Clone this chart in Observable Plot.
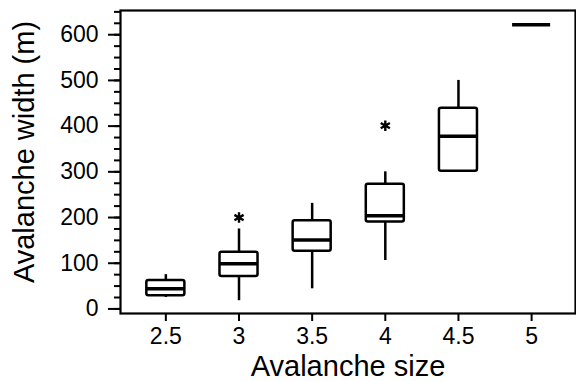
<!DOCTYPE html>
<html>
<head>
<meta charset="utf-8">
<script src="https://cdn.jsdelivr.net/npm/d3@7"></script>
<script src="https://cdn.jsdelivr.net/npm/@observablehq/plot@0.6"></script>
<style>
  html, body { margin: 0; padding: 0; background: #fff; }
  svg { display: block; }
</style>
</head>
<body>
<div id="chart"></div>
<script>
// Data
const sizes       = [2.5, 3, 3.5, 4, 4.5, 5];
const whiskerLow  = [25, 18, 44, 106, 301, 622];
const q1          = [29, 71, 126, 190, 301, 622];
const medians     = [44, 99, 151, 204, 378, 622];
const q3          = [62, 124, 193, 273, 439, 622];
const whiskerHigh = [75, 175, 231, 300, 500, 622];
const outlierSize  = [3, 4];
const outlierWidth = [200, 401];
const xTicks = [2.5, 3, 3.5, 4, 4.5, 5];
const xTickLabels = ["2.5", "3", "3.5", "4", "4.5", "5"];
const yTicks = [0, 100, 200, 300, 400, 500, 600];
const yMinorTicks = d3.range(0, 651, 25);

const boxes = sizes.map((s, i) => ({
  size: s, lo: whiskerLow[i], q1: q1[i], med: medians[i], q3: q3[i], hi: whiskerHigh[i]
}));
const outliers = outlierSize.map((s, i) => ({size: s, width: outlierWidth[i]}));
const half = 0.13;

const font = "'Liberation Sans', Arial, Helvetica, sans-serif";

const chart = Plot.plot({
  width: 576,
  height: 381,
  marginLeft: 120,
  marginTop: 10,
  marginRight: 1,
  marginBottom: 68,
  style: {fontFamily: font, background: "#fff", color: "#000"},
  x: {domain: [2.19, 5.3], label: null},
  y: {domain: [-10, 653], label: null},
  marks: [
    Plot.axisY(yMinorTicks, {tickSize: 6, text: null, strokeWidth: 2, label: null}),
    Plot.axisY(yTicks, {tickSize: 12, tickPadding: 10, strokeWidth: 2, fontSize: 23, label: null}),
    Plot.axisX(xTicks, {tickSize: 8, tickPadding: 6, strokeWidth: 2, fontSize: 23, label: null,
      tickFormat: (d) => xTickLabels[xTicks.indexOf(d)]}),
    Plot.frame({stroke: "#000", strokeWidth: 2.2}),
    Plot.ruleX(boxes.filter(d => d.hi > d.lo), {x: "size", y1: "lo", y2: "hi", stroke: "#000", strokeWidth: 2.5}),
    Plot.rect(boxes.filter(d => d.q3 > d.q1), {
      x1: d => d.size - half, x2: d => d.size + half, y1: "q1", y2: "q3",
      fill: "#fff", stroke: "#000", strokeWidth: 2.5, rx: 2
    }),
    Plot.ruleY(boxes, {y: "med", x1: d => d.size - half, x2: d => d.size + half, stroke: "#000", strokeWidth: 3.5}),
    Plot.dot(outliers, {x: "size", y: "width", symbol: "asterisk", r: 5, stroke: "#000", strokeWidth: 2.4}),
    Plot.text(["Avalanche size"], {frameAnchor: "bottom", textAnchor: "middle", lineAnchor: "middle", dy: 53, fontSize: 29, fill: "#000"}),
    Plot.text(["Avalanche width (m)"], {frameAnchor: "left", textAnchor: "middle", lineAnchor: "middle", dx: -96, dy: -10, rotate: -90, fontSize: 29, fill: "#000"})
  ]
});
document.getElementById("chart").appendChild(chart);
</script>
</body>
</html>
